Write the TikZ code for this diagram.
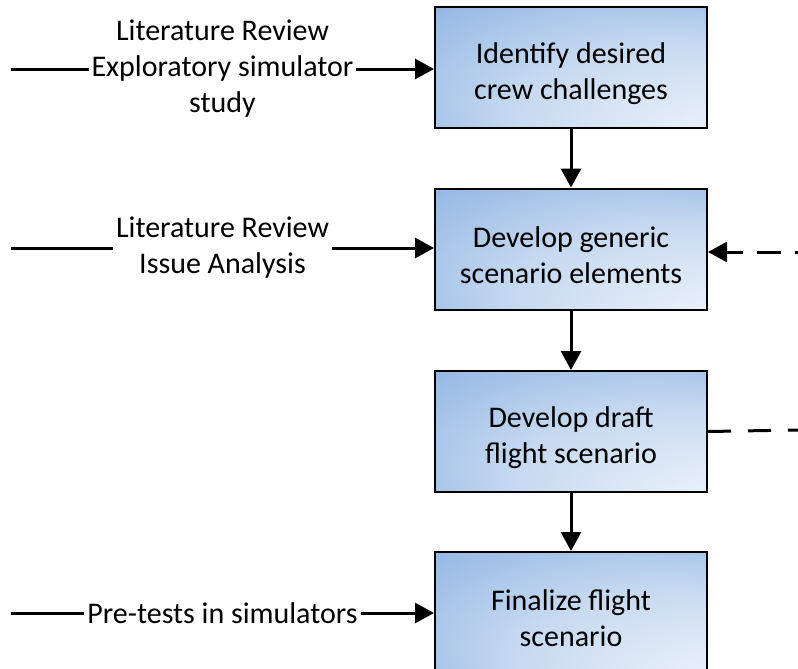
\documentclass[tikz,border=0pt]{standalone}
\usepackage{fontspec}
\setmainfont{Carlito}
\usetikzlibrary{arrows.meta}
\definecolor{boxblue}{RGB}{141,179,226}
\pgfdeclareradialshading{cornerglow}{\pgfpoint{50bp}{-50bp}}{%
  color(0bp)=(white); color(10bp)=(boxblue!10!white); color(30bp)=(boxblue!50!white);
  color(46bp)=(boxblue); color(50bp)=(boxblue)}
\tikzset{
  stage/.style={draw, line width=1pt, shade, shading=cornerglow, text height=34.5pt,
    minimum width=136pt, minimum height=60.5pt, align=center, font=\fontsize{15pt}{18pt}\selectfont},
  source/.style={fill=white, inner sep=1.5pt, align=center, font=\fontsize{15pt}{18pt}\selectfont}
}
\begin{document}
\begin{tikzpicture}[x=0.5pt, y=-0.5pt, line width=1.5pt, >={Triangle[length=9.5pt,width=10pt]}]
        \useasboundingbox (0,0) rectangle (798,669);

        % Nodes for the scenario stages
        \node[stage] (ID) at (571,67.5) {Identify desired\\crew challenges};
        \node[stage] (DG) at (571,249) {Develop generic\\scenario elements};
        \node[stage] (DD) at (571,431.5) {Develop draft\\flight scenario};
        \node[stage] (FF) at (571,612.5) {Finalize flight\\scenario};

        % Free ends of inputs and feedback
        \coordinate (litA) at (11,69);
        \coordinate (litB) at (11,248);
        \coordinate (pre) at (11,613);
        \coordinate (backIn) at (798,252);
        \coordinate (backOut) at (798,430);

        \draw[->] (ID) -- (DG);
        \draw[->] (DG) -- (DD);
        \draw[->] (DD) -- (FF);

        % Inputs from the left
        \draw[->] (litA) -- node[midway, source] {Literature Review\\Exploratory simulator\\study} (litA -| ID.west);
        \draw[->] (litB) -- node[midway, source] {Literature Review\\Issue Analysis} (litB -| DG.west);
        \draw[->] (pre) -- node[midway, source] {Pre-tests in simulators} (pre -| FF.west);

        % Feedback edges
        \draw[dash pattern=on 11.5pt off 8.5pt] (DD.east) -- (backOut);
        \draw[->, dash pattern=on 12pt off 7pt, dash phase=10.5pt] (backIn) -- (backIn -| DG.east);

\end{tikzpicture}
\end{document}
